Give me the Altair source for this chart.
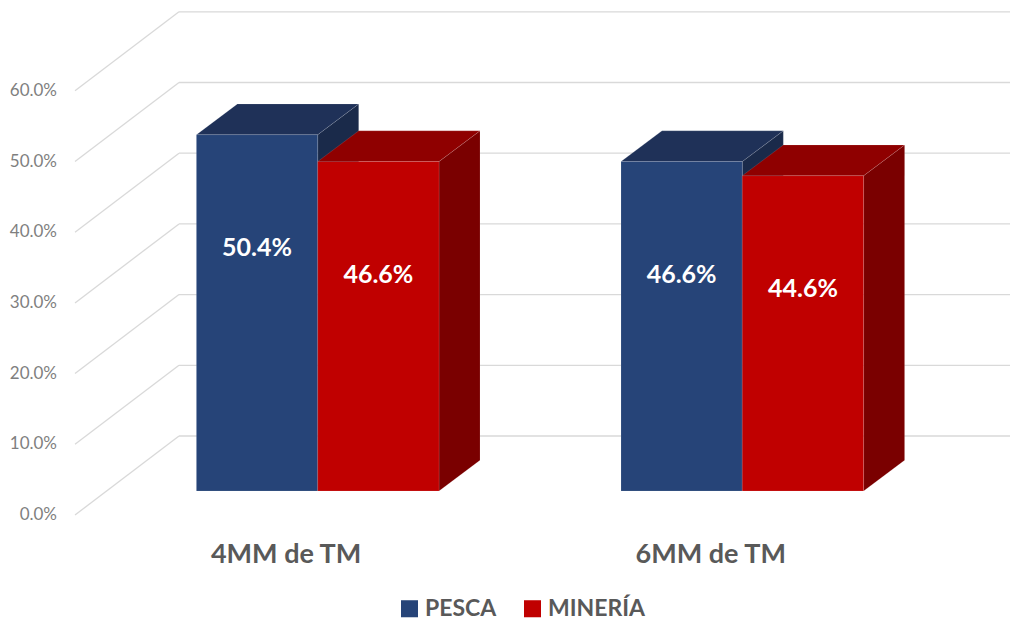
import altair as alt
import pandas as pd

# ---------------- data ----------------
categories = ["4MM de TM", "6MM de TM"]
series = ["PESCA", "MINERÍA"]
pesca = [50.4, 46.6]
mineria = [46.6, 44.6]
y_ticks = [0, 10, 20, 30, 40, 50, 60]
y_tick_labels = ["0.0%", "10.0%", "20.0%", "30.0%", "40.0%", "50.0%", "60.0%"]

front_colors = ["#264478", "#C00000"]
top_colors = ["#1F3158", "#8F0000"]
side_colors = ["#1A2A4A", "#7A0000"]

# ---------------- layout constants (pixels) ----------------
W, H = 1002, 613
GROUP_PX = 424.6          # distance between group centres
X0_PX = 309.7             # chart x of first group centre
Y0_PX = 483.0             # chart y of 0% on the bar front plane
PX_PER_PCT = 7.07
BAR_W_PX = 121.3
DEPTH_PX = (41.0, 30.7)   # bar depth: right, up
FLOOR_PX = (-31.6, -24.0)  # floor front edge relative to bar plane
WALL_PX = (72.4, 55.0)    # back wall relative to bar plane
FLOOR_LEFT_PX = 67.0      # chart x where the floor's front edge starts
YLABEL_RIGHT_PX = 49.0    # chart x of right edge of y labels


def gx(px):
    return px / GROUP_PX


def vy(px):
    return px / PX_PER_PCT


xs = alt.Scale(domain=[gx(-X0_PX), gx(W - X0_PX)], nice=False, zero=False)
ys = alt.Scale(domain=[vy(Y0_PX - H), vy(Y0_PX)], nice=False, zero=False)

bw = gx(BAR_W_PX)
ddx, ddy = gx(DEPTH_PX[0]), vy(DEPTH_PX[1])

fronts, tops, sides = [], [], []
values = [pesca, mineria]
bid = 0
for ci, cat in enumerate(categories):
    for si, s in enumerate(series):
        v = values[si][ci]
        xl = ci + (si - 1) * bw
        xr = xl + bw
        fronts.append(dict(cat=cat, serie=s, xl=xl, xr=xr, xc=(xl + xr) / 2,
                           v=v, base=0.0, label=f"{v:.1f}%"))
        tc, sc = top_colors[si], side_colors[si]
        for x, y1, y2 in [(xl, v, v), (xl + ddx, v, v + ddy),
                          (xr, v, v + ddy), (xr + ddx, v + ddy, v + ddy)]:
            tops.append(dict(bar=bid, x=x, y=y1, y2=y2, shade=tc))
        for x, y1, y2 in [(xr, 0.0, v), (xr + ddx, ddy, v + ddy)]:
            sides.append(dict(bar=bid, x=x, y=y1, y2=y2, shade=sc))
        bid += 1

fronts = pd.DataFrame(fronts)
tops = pd.DataFrame(tops)
sides = pd.DataFrame(sides)

fdx, fdy = gx(FLOOR_PX[0]), vy(FLOOR_PX[1])
wdx, wdy = gx(WALL_PX[0]), vy(WALL_PX[1])
xf0 = gx(FLOOR_LEFT_PX - X0_PX)
grid = pd.DataFrame([dict(t=t, xf=xf0, yf=t + fdy,
                          xb=xf0 - fdx + wdx, yb=t + wdy,
                          xe=gx(W - X0_PX)) for t in y_ticks])

ylab = pd.DataFrame(dict(lab=y_tick_labels, x=[gx(YLABEL_RIGHT_PX - X0_PX)] * len(y_ticks),
                         y=[t + fdy for t in y_ticks]))

cats = pd.DataFrame(dict(cat=categories, x=[i + fdx for i in range(len(categories))],
                         y=[fdy] * len(categories)))

GRID_COLOR = "#D9D9D9"
X = lambda f: alt.X(f, scale=xs, axis=None)
Y = lambda f: alt.Y(f, scale=ys, axis=None)

diag = alt.Chart(grid).mark_rule(color=GRID_COLOR, strokeWidth=1.3).encode(
    x=X("xf:Q"), y=Y("yf:Q"), x2="xb:Q", y2="yb:Q")
back = alt.Chart(grid).mark_rule(color=GRID_COLOR, strokeWidth=1.3).encode(
    x=X("xb:Q"), y=Y("yb:Q"), x2="xe:Q")

ylabels = alt.Chart(ylab).mark_text(font="Lato", fontSize=17, color="#7F7F7F",
                                    align="right", baseline="middle").encode(
    x=X("x:Q"), y=Y("y:Q"), text="lab:N")

side_layer = alt.Chart(sides).mark_area(orient="vertical", stroke="#ffffff",
                                          strokeOpacity=0.15, strokeWidth=0.8).encode(
    x=X("x:Q"), y=Y("y:Q"), y2="y2:Q",
    fill=alt.Fill("shade:N", scale=None), detail="bar:N")
top_layer = alt.Chart(tops).mark_area(orient="vertical", stroke="#ffffff",
                                        strokeOpacity=0.15, strokeWidth=0.8).encode(
    x=X("x:Q"), y=Y("y:Q"), y2="y2:Q",
    fill=alt.Fill("shade:N", scale=None), detail="bar:N")

front_layer = alt.Chart(fronts).mark_rect(stroke="#ffffff", strokeOpacity=0.15,
                                           strokeWidth=0.8).encode(
    x=X("xl:Q"), x2="xr:Q", y=Y("v:Q"), y2="base:Q",
    color=alt.Color("serie:N", sort=series,
                    scale=alt.Scale(domain=series, range=front_colors),
                    legend=alt.Legend(title=None, orient="none", legendX=390,
                                      legendY=589, direction="horizontal",
                                      symbolType="square", symbolSize=290,
                                      symbolStrokeWidth=0, symbolOpacity=1,
                                      labelFont="Lato", labelFontSize=23,
                                      labelFontWeight="bold", labelColor="#595959",
                                      labelOffset=4, columnPadding=24, padding=0)))

value_labels = alt.Chart(fronts).mark_text(font="Lato", fontSize=25, fontWeight="bold",
                                           color="white", dy=113, baseline="middle").encode(
    x=X("xc:Q"), y=Y("v:Q"), text="label:N")

cat_labels = alt.Chart(cats).mark_text(font="Lato", fontSize=27, fontWeight="bold",
                                       color="#595959", dy=40, baseline="middle").encode(
    x=X("x:Q"), y=Y("y:Q"), text="cat:N")

chart = alt.layer(diag, back, ylabels, side_layer, top_layer, front_layer,
                  value_labels, cat_labels).properties(
    width=W, height=H, autosize="none", padding=0, background="white"
).configure_view(stroke=None)

chart.save("out.html", embed_options={"renderer": "svg", "actions": False})
